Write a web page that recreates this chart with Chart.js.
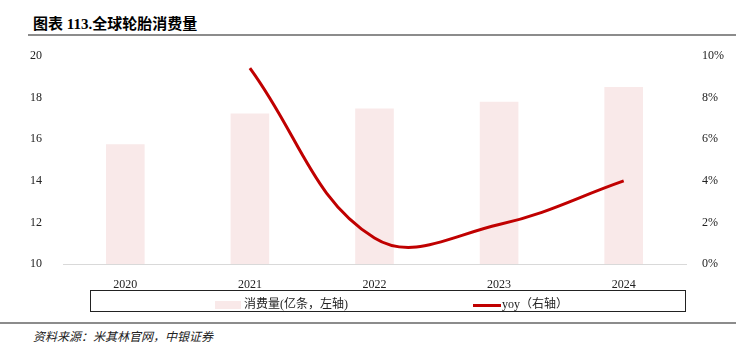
<!DOCTYPE html>
<html>
<head>
<meta charset="utf-8">
<script src="https://cdn.jsdelivr.net/npm/chart.js@4.4.1/dist/chart.umd.min.js"></script>
<style>
  html, body { margin: 0; padding: 0; background: #fff; }
  body { width: 736px; height: 352px; position: relative; overflow: hidden; font-family: "Liberation Serif", "Noto Sans CJK SC", serif; }
  #title { position: absolute; left: 33px; top: 12px; font-size: 15px; font-weight: bold; color: #000; font-family: "Liberation Serif", "Noto Sans CJK SC", serif; }
  #titleLine { position: absolute; left: 28px; right: 0; top: 34px; height: 2px; background: #8c8c8c; }
  #chartBox { position: absolute; left: 0; top: 36px; width: 736px; height: 259px; }
  #legend { position: absolute; left: 90px; top: 290px; width: 594px; height: 20px; border: 1px solid #222; font-size: 12px; color: #222; }
  .item { position: absolute; top: 3px; white-space: nowrap; }
  .swatch { display: inline-block; vertical-align: middle; margin-right: 3px; }
  #footLine { position: absolute; left: 0; right: 0; top: 322px; height: 2px; background: #8c8c8c; }
  #source { position: absolute; left: 33px; top: 327px; font-size: 12px; font-style: italic; color: #222; font-family: "Noto Sans CJK SC", serif; }
</style>
</head>
<body>
<div id="title">图表 113.全球轮胎消费量</div>
<div id="titleLine"></div>
<div id="chartBox"><canvas id="chart"></canvas></div>
<div id="legend">
  <div class="item" style="left:124px;"><span class="swatch" style="width:26px;height:8px;background:#f9e9e9;"></span>消费量(亿条，左轴)</div>
  <div class="item" style="left:382px;"><span class="swatch" style="width:28px;height:3px;background:#c00000;margin-right:1px;"></span>yoy（右轴）</div>
</div>
<div id="footLine"></div>
<div id="source">资料来源：米其林官网，中银证券</div>
<script>
  // data
  const years = ['2020', '2021', '2022', '2023', '2024'];
  const consumption = [15.76, 17.24, 17.48, 17.81, 18.52];   // 亿条
  const yoy = [null, 9.43, 1.25, 1.9, 4.0];                   // %

  const tickFont = { family: '"Liberation Serif", "Times New Roman", serif', size: 12 };

  new Chart(document.getElementById('chart'), {
    data: {
      labels: years,
      datasets: [
        {
          type: 'line',
          label: 'yoy（右轴）',
          data: yoy,
          yAxisID: 'y1',
          borderColor: '#c00000',
          borderWidth: 3,
          pointRadius: 0,
          tension: 0.4,
          order: 0
        },
        {
          type: 'bar',
          label: '消费量(亿条，左轴)',
          data: consumption,
          yAxisID: 'y',
          backgroundColor: '#f9e9e9',
          categoryPercentage: 0.62,
          barPercentage: 0.5,
          order: 1
        }
      ]
    },
    options: {
      responsive: true,
      maintainAspectRatio: false,
      animation: false,
      layout: { padding: { top: 4, left: 0, right: 0, bottom: 0 } },
      plugins: { legend: { display: false }, tooltip: { enabled: false } },
      scales: {
        x: {
          grid: { display: false },
          border: { display: true, color: '#d9d9d9', width: 1 },
          ticks: { font: tickFont, color: '#222', padding: 6 },
          afterFit: function(axis) { axis.height = 31; }
        },
        y: {
          position: 'left',
          min: 10, max: 20,
          grid: { display: false },
          border: { display: false },
          ticks: { stepSize: 2, font: tickFont, color: '#222', padding: 13 },
          afterFit: function(axis) { axis.width = 63; }
        },
        y1: {
          position: 'right',
          min: 0, max: 10,
          grid: { display: false },
          border: { display: false },
          ticks: {
            stepSize: 2, font: tickFont, color: '#222', padding: 8,
            callback: function(value) { return value + '%'; }
          },
          afterFit: function(axis) { axis.width = 50; }
        }
      }
    }
  });
</script>
</body>
</html>
